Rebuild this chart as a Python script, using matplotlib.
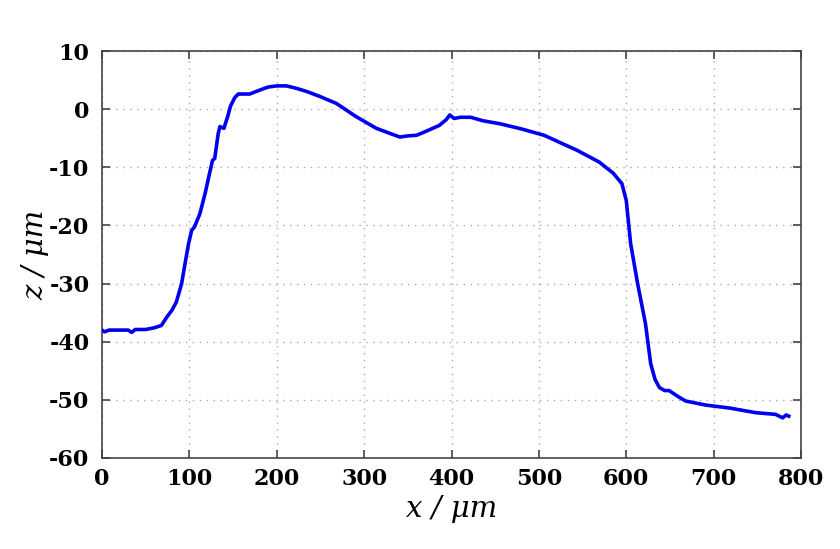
# plot.py
# Surface profile z(x), gnuplot-like look
import matplotlib
matplotlib.use("Agg")
import matplotlib.pyplot as plt

# profile
x_um = [0, 3, 8, 20, 30, 34, 38, 50, 60, 68,
        74, 80, 85, 91, 95, 99, 102.5, 106, 112, 118,
        123, 126.5, 129, 133, 135, 139.5, 144, 147, 152, 156,
        169, 181, 190, 200, 211, 222, 235, 249, 268, 291,
        314, 330, 341, 350, 360, 371, 386, 394, 398, 403,
        410, 422, 436, 455, 480, 506, 544, 569, 585, 595,
        600, 605, 613, 622, 628, 633, 638, 644, 649, 660,
        668, 691, 718, 748, 771, 779, 783, 786]
z_um = [-38.0, -38.3, -38.0, -38.0, -38.0, -38.4, -37.9, -37.9, -37.6, -37.2,
        -35.8, -34.6, -33.2, -30.1, -26.6, -23.2, -20.9, -20.2, -18.0, -14.5,
        -11.1, -8.8, -8.5, -4.2, -3.0, -3.3, -1.2, 0.5, 2.0, 2.6,
        2.6, 3.3, 3.8, 4.0, 4.0, 3.6, 3.0, 2.2, 1.0, -1.3,
        -3.3, -4.2, -4.8, -4.6, -4.5, -3.8, -2.8, -1.8, -1.0, -1.6,
        -1.4, -1.4, -2.0, -2.5, -3.4, -4.5, -7.1, -9.1, -11.0, -12.8,
        -15.7, -23.1, -30.0, -36.9, -43.8, -46.5, -47.9, -48.4, -48.4, -49.5,
        -50.2, -50.9, -51.4, -52.2, -52.5, -53.1, -52.6, -52.8]

x_ticks = [0, 100, 200, 300, 400, 500, 600, 700, 800]
z_ticks = [10, 0, -10, -20, -30, -40, -50, -60]

W, H = 840, 549
fig = plt.figure(figsize=(W / 100, H / 100), dpi=100, facecolor="white")

ax = fig.add_axes([102 / W, 1 - 458 / H, (801 - 102) / W, (458 - 51) / H])
ax.set_facecolor("white")

ax.plot(x_um, z_um, color="#0000ee", linewidth=2.6, solid_joinstyle="round", zorder=3)

ax.set_xlim(0, 800)
ax.set_ylim(-60, 10)
ax.set_xticks(x_ticks)
ax.set_yticks(z_ticks)

tick_font = {"family": "DejaVu Serif", "weight": "bold", "size": 16}
ax.set_xticklabels([str(t) for t in x_ticks], fontdict=tick_font)
ax.set_yticklabels([str(t) for t in z_ticks], fontdict=tick_font)

ax.tick_params(direction="in", length=6, width=1.2, color="#444444",
               top=True, right=True)
ax.tick_params(axis="x", pad=7)
ax.tick_params(axis="y", pad=9)

for s in ax.spines.values():
    s.set_color("#444444")
    s.set_linewidth(1.2)

ax.grid(True, color="#aaaaaa", linewidth=1.0, linestyle=(0, (1, 4)))

label_font = {"family": "DejaVu Serif", "style": "italic", "size": 21}
ax.set_xlabel("x / μm", fontdict=label_font, labelpad=4)
ax.set_ylabel("z / μm", fontdict=label_font, labelpad=0)

fig.savefig("out.png", dpi=100)
